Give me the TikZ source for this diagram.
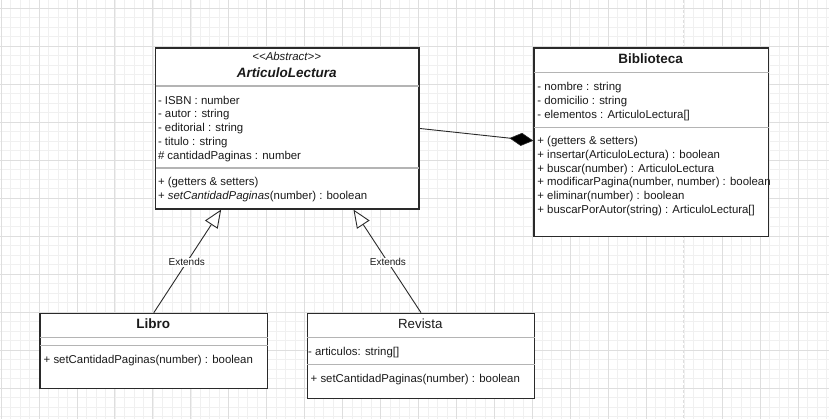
\documentclass[tikz,border=0pt]{standalone}
\usepackage{fontspec}
\setmainfont{Liberation Sans}
\usetikzlibrary{arrows.meta,calc}
\definecolor{ink}{HTML}{1A1A1A}
\definecolor{boxline}{HTML}{2A2A2A}
\definecolor{divline}{HTML}{B4B4B4}
\definecolor{gridmajor}{HTML}{DEDEDE}
\definecolor{gridminor}{HTML}{F0F0F0}
\tikzset{
  umlbox/.style={draw=boxline, line width=1.3pt, fill=white, inner sep=0pt, anchor=north west},
  divider/.style={draw=divline, line width=1.4pt, shorten <=0.6pt, shorten >=0.6pt},
  txt/.style={inner sep=0pt, anchor=base west, text=ink, font=\fontsize{11.4}{13.7}\selectfont},
  ttl/.style={inner sep=0pt, anchor=base, text=ink, font=\fontsize{13.5}{16}\selectfont\bfseries},
  extends/.style={draw=boxline, line width=0.9pt, -{Triangle[open, length=18pt, width=15pt, fill=white, line width=0.9pt]}},
  compos/.style={draw=boxline, line width=0.9pt, -{Diamond[length=24pt, width=13pt, fill=black, line width=0.6pt]}},
  extlabel/.style={fill=white, inner sep=1pt, text=ink, font=\fontsize{10}{12}\selectfont},
  minorgrid/.style={draw=gridminor, line width=0.6pt},
  majorgrid/.style={draw=gridmajor, line width=0.9pt},
}
\begin{document}
\begin{tikzpicture}[x=1pt, y=-1pt]
\useasboundingbox (0,0) rectangle (829,419);
\fill[white] (0,0) rectangle (829,419);
% grid
\foreach \i in {0,...,88} \draw[minorgrid] ({1.05+\i*9.4875},0) -- ({1.05+\i*9.4875},419);
\foreach \j in {0,...,45} \draw[minorgrid] (0,{8.2+(\j-1)*9.5}) -- (829,{8.2+(\j-1)*9.5});
\foreach \i in {0,...,17,19,20,21} \draw[majorgrid] ({1.05+\i*37.95},0) -- ({1.05+\i*37.95},419);
\draw[majorgrid, dashed, dash pattern=on 3pt off 2pt] (683.3,0) -- (683.3,419);
\foreach \j in {0,...,10} \draw[majorgrid] (0,{8.2+\j*38}) -- (829,{8.2+\j*38});

% ArticuloLectura
\node[umlbox, minimum width=263.3pt, minimum height=161pt] (AL) at (155,47.3) {};
\draw[divider] (AL.west |- 0,86) -- (AL.east |- 0,86);
\draw[divider] (AL.west |- 0,168) -- (AL.east |- 0,168);
\node[txt, anchor=base, font=\fontsize{11.4}{13.7}\selectfont\itshape] (ALst) at (286.7,60.3) {{<}{<}Abstract{>}{>}};
\node[ttl, font=\fontsize{13.5}{16}\selectfont\bfseries\itshape] (ALt) at (286.7,77.3) {ArticuloLectura};
\node[txt] (ALa1) at (157.8,104.3) {- ISBN : number};
\node[txt] (ALa2) at (157.8,118.0) {- autor : string};
\node[txt] (ALa3) at (157.8,131.7) {- editorial : string};
\node[txt] (ALa4) at (157.8,145.4) {- titulo : string};
\node[txt] (ALa5) at (157.8,159.1) {\# cantidadPaginas : number};
\node[txt] (ALm1) at (157.8,185.8) {+ (getters \& setters)};
\node[txt] (ALm2) at (157.8,199.6) {+ \textit{setCantidadPaginas}(number) : boolean};

% Biblioteca
\node[umlbox, minimum width=234.7pt, minimum height=188.7pt] (Bib) at (533.3,47.3) {};
\draw[divider] (Bib.west |- 0,72.7) -- (Bib.east |- 0,72.7);
\draw[divider] (Bib.west |- 0,127.3) -- (Bib.east |- 0,127.3);
\node[ttl] (Bibt) at (650.7,63.3) {Biblioteca};
\node[txt] (Biba1) at (537.2,90.8) {- nombre : string};
\node[txt] (Biba2) at (537.2,104.5) {- domicilio : string};
\node[txt] (Biba3) at (537.2,118.2) {- elementos : ArticuloLectura[]};
\node[txt] (Bibm1) at (537.2,144.3) {+ (getters \& setters)};
\node[txt] (Bibm2) at (537.2,158.2) {+ insertar(ArticuloLectura) : boolean};
\node[txt] (Bibm3) at (537.2,172.1) {+ buscar(number) : ArticuloLectura};
\node[txt] (Bibm4) at (537.2,186.0) {+ modificarPagina(number, number) : boolean};
\node[txt] (Bibm5) at (537.2,199.9) {+ eliminar(number) : boolean};
\node[txt] (Bibm6) at (537.2,213.8) {+ buscarPorAutor(string) : ArticuloLectura[]};

% Libro
\node[umlbox, minimum width=227.7pt, minimum height=75.3pt] (Libro) at (39.3,312.7) {};
\draw[divider] (Libro.west |- 0,337.7) -- (Libro.east |- 0,337.7);
\draw[divider] (Libro.west |- 0,345.3) -- (Libro.east |- 0,345.3);
\node[ttl] (Librot) at (153.2,328.3) {Libro};
\node[txt] (Librom1) at (43.5,363.1) {+ setCantidadPaginas(number) : boolean};

% Revista
\node[umlbox, minimum width=227.3pt, minimum height=84.8pt] (Rev) at (306.7,312.7) {};
\draw[divider] (Rev.west |- 0,337.7) -- (Rev.east |- 0,337.7);
\draw[divider] (Rev.west |- 0,364.3) -- (Rev.east |- 0,364.3);
\node[ttl, font=\fontsize{13.3}{16}\selectfont] (Revt) at (420.3,328.3) {Revista};
\node[txt] (Reva1) at (308.0,355.8) {- articulos: string[]};
\node[txt] (Revm1) at (310.5,382.4) {+ setCantidadPaginas(number) : boolean};

% connectors
\coordinate (tipL) at ($(AL.south west)!0.25!(AL.south east)$);
\coordinate (tipR) at ($(AL.south west)!0.75!(AL.south east)$);
\draw[extends] (Libro.north) -- node[extlabel, pos=0.49] (extL) {Extends} (tipL);
\draw[extends] (Rev.north) -- node[extlabel, pos=0.49] (extR) {Extends} (tipR);
\draw[compos] (AL.east) -- ($(Bib.west)+(0,-1.6)$);
\end{tikzpicture}
\end{document}
